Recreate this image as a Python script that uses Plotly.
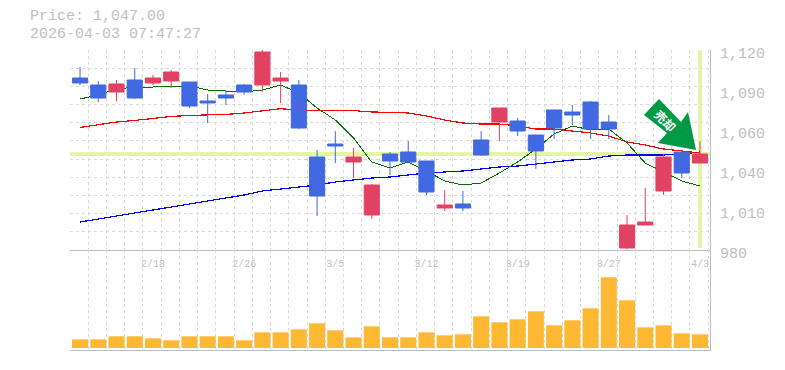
import plotly.graph_objects as go

# index of each session
sessions = list(range(35))
label_pos = [4, 9, 14, 19, 24, 29, 34]
label_text = ["2/18", "2/26", "3/5", "3/12", "3/19", "3/27", "4/3"]

open_ = [1100.4, 1095.5, 1090.6, 1099.0, 1096.9, 1098.3, 1097.6, 1084.3, 1088.5, 1095.5, 1095.5, 1098.3, 1095.5,
         1045.1, 1054.2, 1041.6, 1004.5, 1047.2, 1048.6, 1042.3, 1009.4, 1012.2, 1057.0, 1069.6, 1070.3, 1060.5, 1078.0,
         1076.6, 1083.6, 1069.6, 981.4, 997.5, 1021.3, 1048.6, 1040.9]
high = [1108.1, 1098.3, 1099.0, 1107.4, 1102.5, 1106.0, 1097.6, 1089.2, 1092.0, 1096.2, 1120.0, 1104.6, 1099.0,
        1050.0, 1063.3, 1051.4, 1026.2, 1048.6, 1056.3, 1042.3, 1022.0, 1021.3, 1063.3, 1079.4, 1072.4, 1060.5, 1078.0,
        1081.5, 1084.3, 1074.5, 1004.5, 1023.4, 1047.2, 1050.0, 1056.3]
low = [1095.5, 1083.6, 1084.3, 1085.7, 1095.5, 1093.4, 1079.4, 1068.9, 1081.5, 1088.5, 1090.6, 1082.9, 1064.7,
       1003.8, 1040.9, 1030.4, 1001.7, 1032.5, 1041.6, 1018.5, 1007.3, 1007.3, 1045.8, 1056.3, 1059.8, 1036.7, 1057.7,
       1067.5, 1057.7, 1057.7, 980.7, 997.5, 1018.5, 1030.4, 1040.9]
close = [1096.9, 1086.4, 1096.2, 1086.4, 1100.4, 1104.6, 1080.8, 1082.9, 1086.4, 1090.6, 1118.6, 1100.4, 1065.4,
         1017.8, 1052.8, 1045.1, 1025.5, 1042.3, 1041.6, 1020.6, 1011.5, 1009.4, 1046.5, 1079.4, 1063.3, 1049.3, 1065.4,
         1074.5, 1064.7, 1064.7, 997.5, 999.6, 1045.1, 1033.9, 1047.2]

ma_short = [1085.7, 1088.5, 1092.7, 1094.1, 1094.1, 1094.8, 1094.8, 1092.0, 1091.3, 1090.6, 1092.0, 1095.5, 1089.9,
            1079.4, 1071.0, 1058.4, 1041.6, 1037.4, 1041.6, 1035.3, 1028.3, 1025.5, 1026.9, 1033.9, 1041.6, 1050.7, 1061.2,
            1066.8, 1064.0, 1064.7, 1054.9, 1040.9, 1034.6, 1028.3, 1024.8]
ma_mid = [1065.8, 1067.9, 1069.6, 1070.7, 1072.0, 1073.5, 1074.2, 1074.5, 1074.9, 1075.9, 1077.3, 1078.9, 1078.0,
          1077.6, 1077.6, 1077.6, 1076.6, 1076.4, 1075.9, 1073.8, 1071.0, 1068.9, 1068.2, 1068.2, 1066.8, 1064.7, 1064.7,
          1063.3, 1061.9, 1059.8, 1055.6, 1053.5, 1050.7, 1049.3, 1047.9]
ma_long = [999.6, 1001.7, 1003.8, 1005.9, 1008.2, 1010.1, 1012.2, 1014.3, 1016.4, 1018.5, 1021.3, 1022.7, 1024.1,
           1025.5, 1027.6, 1029.0, 1030.4, 1031.1, 1032.5, 1033.9, 1034.6, 1035.3, 1036.7, 1038.1, 1038.8, 1040.2, 1041.6,
           1043.0, 1043.7, 1045.8, 1046.5, 1046.5, 1046.5, 1047.2, 1048.6]

volume = [26, 26, 35, 35, 29, 23, 35, 35, 35, 23, 47, 47, 56, 74, 53, 32, 65, 32,
          32, 47, 38, 41, 95, 77, 86, 110, 68, 83, 119, 212, 143, 62, 68, 44, 41]

last_price = [1047.0, 1047.0]
price_span = [-0.55, 34.55]
cursor_x = [34, 34]
cursor_y = [981.4, 1120.0]

price_ticks = [1120, 1092, 1064, 1036, 1008, 980]
price_labels = ["1,120", "1,090", "1,060", "1,040", "1,010", "980"]

MONO = "Liberation Mono"
GREY = "#c0c0c0"
GRID = "#d9d9d9"
AXIS = "#bcbcbc"
W, H = 785, 370
L, R, T, B = 70, 75, 50, 20


def px(x, y):
    return (x - L) / (W - L - R), 1 - (y - T) / (H - T - B)


arrow_px = [(644, 115), (659, 99), (681, 122), (688, 112), (696, 150), (658, 143), (667, 133)]
path = "M " + " L ".join("%.5f %.5f" % px(*p) for p in arrow_px) + " Z"

fig = go.Figure()
fig.add_trace(go.Scatter(x=price_span, y=last_price, mode="lines", line=dict(color="#e4f5a6", width=3.6), hoverinfo="skip"))
fig.add_trace(go.Scatter(x=cursor_x, y=cursor_y, mode="lines", line=dict(color="#e4f5a6", width=3.6), hoverinfo="skip"))
fig.add_trace(go.Scatter(x=sessions, y=ma_long, mode="lines", line=dict(color="#0000ff", width=1.2)))
fig.add_trace(go.Scatter(x=sessions, y=ma_mid, mode="lines", line=dict(color="#ff0000", width=1.2)))
fig.add_trace(go.Scatter(x=sessions, y=ma_short, mode="lines", line=dict(color="#007000", width=1)))
fig.add_trace(go.Candlestick(
    x=sessions, open=open_, high=high, low=low, close=close, whiskerwidth=0, xaxis="x3", yaxis="y3",
    increasing=dict(line=dict(color="#e24262", width=1), fillcolor="#e24262"),
    decreasing=dict(line=dict(color="#4169e1", width=1), fillcolor="#4169e1"),
))
fig.add_trace(go.Bar(x=sessions, y=volume, width=0.88, marker=dict(color="#ffb833", line_width=0), xaxis="x2", yaxis="y2"))

minor_grid = dict(showgrid=True, gridcolor=GRID, griddash="3px,3px", gridwidth=1, tick0=-0.55, dtick=1, ticks="")
fig.update_layout(
    width=W, height=H, margin=dict(l=L, r=R, t=T, b=B), showlegend=False,
    paper_bgcolor="white", plot_bgcolor="white", boxgap=0.17, boxgroupgap=0, hovermode=False,
    font=dict(family=MONO, size=15, color=GREY),
    xaxis=dict(domain=[0, 1], range=price_span, anchor="y", showline=True, linecolor=AXIS, linewidth=1, automargin=False,
               rangeslider=dict(visible=False), tickmode="array", tickvals=label_pos, ticktext=label_text,
               tickfont=dict(family=MONO, size=10, color=GREY), ticklabelstandoff=4, showgrid=False, ticks="",
               minor=minor_grid, zeroline=False),
    xaxis2=dict(domain=[0, 1], range=price_span, anchor="y2", showline=True, linecolor=AXIS, linewidth=1, automargin=False,
                showticklabels=False, showgrid=False, ticks="", minor=minor_grid, zeroline=False),
    xaxis3=dict(overlaying="x", anchor="y3", range=price_span, visible=False, automargin=False,
                rangeslider=dict(visible=False), showgrid=False, zeroline=False),
    yaxis=dict(domain=[1 / 3, 1], range=[980, 1120], side="right", anchor="x", showline=True, linecolor=AXIS, linewidth=1,
               automargin=False, tickmode="array", tickvals=price_ticks, ticktext=price_labels, ticks="",
               ticklabelstandoff=6, ticklabelshift=3, showgrid=False, zeroline=False,
               minor=dict(showgrid=True, gridcolor=GRID, griddash="3px,3px", gridwidth=1, tick0=980, dtick=140 / 11, ticks="")),
    yaxis2=dict(domain=[0, 1 / 3], range=[-6, 294], side="right", anchor="x2", showline=True, linecolor=AXIS, linewidth=1,
                automargin=False, showticklabels=False, showgrid=False, zeroline=False, ticks=""),
    yaxis3=dict(overlaying="y", anchor="x3", range=[980, 1120], side="right", visible=False, automargin=False,
                showgrid=False, zeroline=False),
    shapes=[dict(type="path", xref="paper", yref="paper", path=path, fillcolor="#009944", line_width=0, layer="above")],
    annotations=[
        dict(text="Price: 1,047.00", xref="paper", yref="paper", x=px(28, 0)[0], y=px(0, 17)[1], xanchor="left", yanchor="middle",
             showarrow=False, font=dict(family=MONO, size=15, color=GREY)),
        dict(text="2026-04-03 07:47:27", xref="paper", yref="paper", x=px(28, 0)[0], y=px(0, 34)[1], xanchor="left", yanchor="middle",
             showarrow=False, font=dict(family=MONO, size=15, color=GREY)),
        dict(text="<b>売却</b>", xref="paper", yref="paper", x=px(666, 0)[0], y=px(0, 120)[1], xanchor="center", yanchor="middle",
             textangle=45, showarrow=False, font=dict(family="Noto Sans CJK JP", size=12, color="white")),
    ],
)
fig.write_html("out.html", config={"displayModeBar": False},
               post_script="document.body.style.margin='0';document.querySelectorAll('.js-line').forEach(function(p){p.style.shapeRendering='crispEdges';});")
